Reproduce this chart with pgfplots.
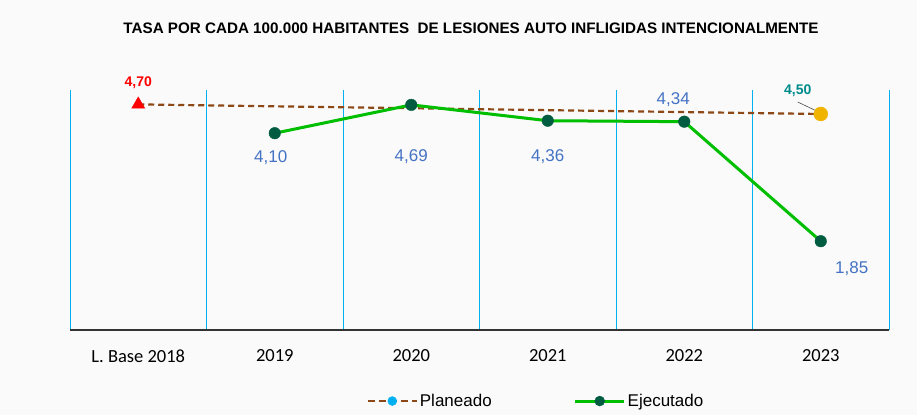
\documentclass[border=0pt]{standalone}
\usepackage{fontspec}
\setmainfont{Liberation Sans}
\newfontfamily\tickfont{Carlito}
\usepackage{pgfplots}
\pgfplotsset{compat=1.18}
\definecolor{bg}{RGB}{250,250,250}
\definecolor{gridblue}{RGB}{0,176,240}
\definecolor{planbrown}{RGB}{140,72,22}
\definecolor{ejgreen}{RGB}{0,190,0}
\definecolor{ejdark}{RGB}{0,92,64}
\definecolor{lblblue}{RGB}{68,114,196}
\definecolor{lblteal}{RGB}{0,139,139}
\definecolor{metaorange}{RGB}{240,180,0}
\definecolor{legcyan}{RGB}{0,176,240}
\begin{document}
\begin{tikzpicture}
\path[use as bounding box, fill=bg] (0,0) rectangle (917bp,415bp);
\node[font=\bfseries\fontsize{15.2bp}{18bp}\selectfont] at (471bp,387bp)
  {TASA POR CADA 100.000 HABITANTES\ \ DE LESIONES AUTO INFLIGIDAS INTENCIONALMENTE};
\begin{axis}[
    at={(70bp,85bp)}, anchor=south west,
    scale only axis, width=819bp, height=240bp,
    xmin=-0.5, xmax=5.5, ymin=0, ymax=5,
    clip=false,
    axis x line*=bottom, axis y line*=left,
    x axis line style={-, line width=1.6bp, draw=black!80},
    y axis line style={draw=none},
    ytick=\empty,
    xtick={0,...,5},
    xticklabels={L. Base 2018,2019,2020,2021,2022,2023},
    xticklabel style={font=\tickfont\fontsize{18.5bp}{22bp}\selectfont, yshift=-16bp},
    minor xtick={-0.5,0.5,...,5.5},
    xminorgrids=true,
    minor grid style={gridblue, line width=0.7bp},
    major tick length=0, minor tick length=0,
    legend columns=2,
    legend style={at={(0.569,-0.296)}, anchor=center, draw=none, fill=none,
      font=\fontsize{17bp}{20bp}\selectfont,
      /tikz/every even column/.append style={column sep=80bp}},
    legend cell align=left,
]
\addlegendimage{legend image code/.code={
  \draw[planbrown, line width=2.2bp, dash pattern=on 7bp off 4bp] (0bp,0bp) -- (49bp,0bp);
  \fill[legcyan] (24.5bp,0bp) circle (4.5bp);}}
\addlegendentry{Planeado}
\addlegendimage{legend image code/.code={
  \draw[ejgreen, line width=3bp] (0bp,0bp) -- (49bp,0bp);
  \fill[ejdark] (24.5bp,0bp) circle (5bp);}}
\addlegendentry{Ejecutado}
% Planeado
\addplot[planbrown, line width=2.2bp, dash pattern=on 6bp off 4bp, forget plot]
  coordinates {(0,4.70) (5,4.50)};
\addplot[only marks, mark=triangle*, mark size=7.5bp, color=red, forget plot]
  coordinates {(0,4.70)};
\addplot[only marks, mark=*, mark size=7bp, color=metaorange, forget plot]
  coordinates {(5,4.50)};
% Ejecutado
\addplot[ejgreen, line width=3bp, mark=*, mark size=5.8bp,
  mark options={fill=ejdark, draw=ejdark, line width=0.4bp}, forget plot]
  coordinates {(1,4.10) (2,4.69) (3,4.36) (4,4.34) (5,1.85)};
% etiquetas
\begin{scope}[every node/.style={font=\fontsize{17bp}{20bp}\selectfont, text=lblblue}]
\node at (axis cs:1,4.10) [xshift=-4bp, yshift=-24bp] {4,10};
\node at (axis cs:2,4.69) [yshift=-52bp] {4,69};
\node at (axis cs:3,4.36) [yshift=-36bp] {4,36};
\node at (axis cs:4,4.34) [xshift=-11bp, yshift=22bp] {4,34};
\node at (axis cs:5,1.85) [xshift=31bp, yshift=-27bp] {1,85};
\end{scope}
\node[font=\bfseries\fontsize{14bp}{16bp}\selectfont, text=red] at (axis cs:0,4.70) [yshift=22bp] {4,70};
\node[font=\bfseries\fontsize{14bp}{16bp}\selectfont, text=lblteal] at (axis cs:5,4.50) [xshift=-23bp, yshift=23bp] {4,50};
\draw[black!70, line width=0.6bp] (axis cs:5,4.50) ++(-23bp,12bp) -- ++(23bp,-11bp);
\end{axis}
\end{tikzpicture}
\end{document}
